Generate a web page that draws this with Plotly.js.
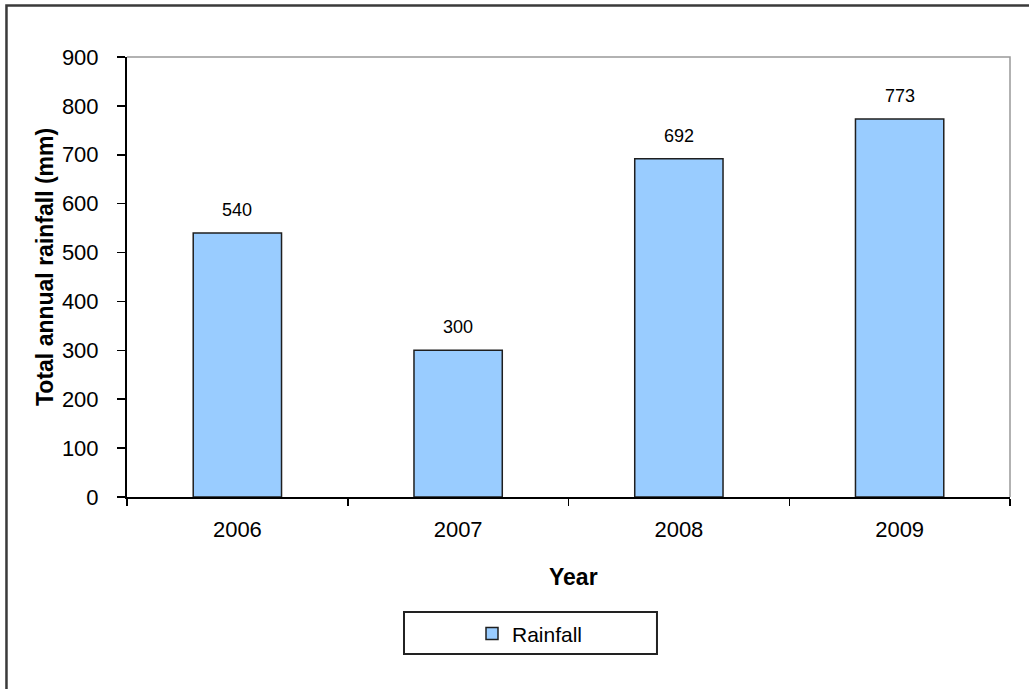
<!DOCTYPE html>
<html>
<head>
<meta charset="utf-8">
<script src="https://cdn.plot.ly/plotly-3.0.1.min.js"></script>
<style>
  html, body { margin: 0; padding: 0; background: #ffffff; }
  #chart { width: 1029px; height: 689px; }
</style>
</head>
<body>
<div id="chart"></div>
<script>
// Total annual rainfall per year
const years = ['2006', '2007', '2008', '2009'];
const rainfall = [540, 300, 692, 773];
const yTicks = [0, 100, 200, 300, 400, 500, 600, 700, 800, 900];

const FONT = 'Liberation Sans, Arial, sans-serif';

const trace = {
  type: 'bar',
  name: 'Rainfall',
  x: years,
  y: rainfall,
  width: 0.4,
  marker: { color: '#99ccff', line: { color: '#1f1f1f', width: 1.5 } },
  hoverinfo: 'x+y'
};

// value labels above each bar (category axis: position by category index)
const valueLabels = years.map((yr, i) => ({
  x: i, y: rainfall[i], xref: 'x', yref: 'y',
  text: String(rainfall[i]), showarrow: false,
  yanchor: 'middle', yshift: 23,
  font: { family: FONT, size: 18, color: '#000' }
}));

const layout = {
  width: 1029, height: 689,
  margin: { l: 127, r: 19, t: 57, b: 192, pad: 0 },
  paper_bgcolor: '#ffffff', plot_bgcolor: '#ffffff',
  showlegend: true,
  font: { family: FONT, color: '#000' },
  xaxis: {
    type: 'category',
    range: [-0.5, 3.5],
    tickson: 'boundaries',
    ticks: 'outside', ticklen: 7, tickwidth: 1.5, tickcolor: '#000',
    showline: true, linecolor: '#000', linewidth: 2,
    showgrid: false, zeroline: false,
    tickfont: { family: FONT, size: 22, color: '#000' },
    ticklabelstandoff: 12,
    fixedrange: true
  },
  yaxis: {
    range: [0, 900],
    tickvals: yTicks,
    ticktext: yTicks.map(String),
    ticks: 'outside', ticklen: 8, tickwidth: 1.5, tickcolor: '#000',
    showline: true, linecolor: '#000', linewidth: 2,
    showgrid: false, zeroline: false,
    tickfont: { family: FONT, size: 22, color: '#000' },
    ticklabelstandoff: 14,
    fixedrange: true
  },
  legend: {
    x: 0.4564, y: -0.311, xanchor: 'center', yanchor: 'middle',
    orientation: 'h',
    bgcolor: 'rgba(0,0,0,0)', borderwidth: 0,
    font: { family: FONT, size: 21, color: '#000' }
  },
  shapes: [
    // outer chart frame
    { type: 'path', xref: 'paper', yref: 'paper',
      path: 'M -0.1365,-0.6 L -0.1365,1.117 L 1.1,1.117',
      line: { color: '#3a3a3a', width: 2.5 } },
    // plot area border (top and right)
    { type: 'path', xref: 'paper', yref: 'paper',
      path: 'M 0,1 L 1,1 L 1,0',
      line: { color: '#999999', width: 1.5 } },
    // legend box
    { type: 'rect', xref: 'paper', yref: 'paper',
      x0: 0.3137, x1: 0.6002, y0: -0.2614, y1: -0.3568,
      line: { color: '#222222', width: 2 }, fillcolor: 'rgba(0,0,0,0)' }
  ],
  annotations: [
    ...valueLabels,
    { text: '<b>Total annual rainfall (mm)</b>', xref: 'paper', yref: 'paper',
      x: -0.0929, y: 0.5227, xanchor: 'center', yanchor: 'middle',
      textangle: -90, showarrow: false,
      font: { family: FONT, size: 23, color: '#000' } },
    { text: '<b>Year</b>', xref: 'paper', yref: 'paper',
      x: 0.5057, y: -0.1818, xanchor: 'center', yanchor: 'middle',
      showarrow: false,
      font: { family: FONT, size: 23, color: '#000' } }
  ]
};

Plotly.newPlot('chart', [trace], layout, { displayModeBar: false, staticPlot: true });
</script>
</body>
</html>
